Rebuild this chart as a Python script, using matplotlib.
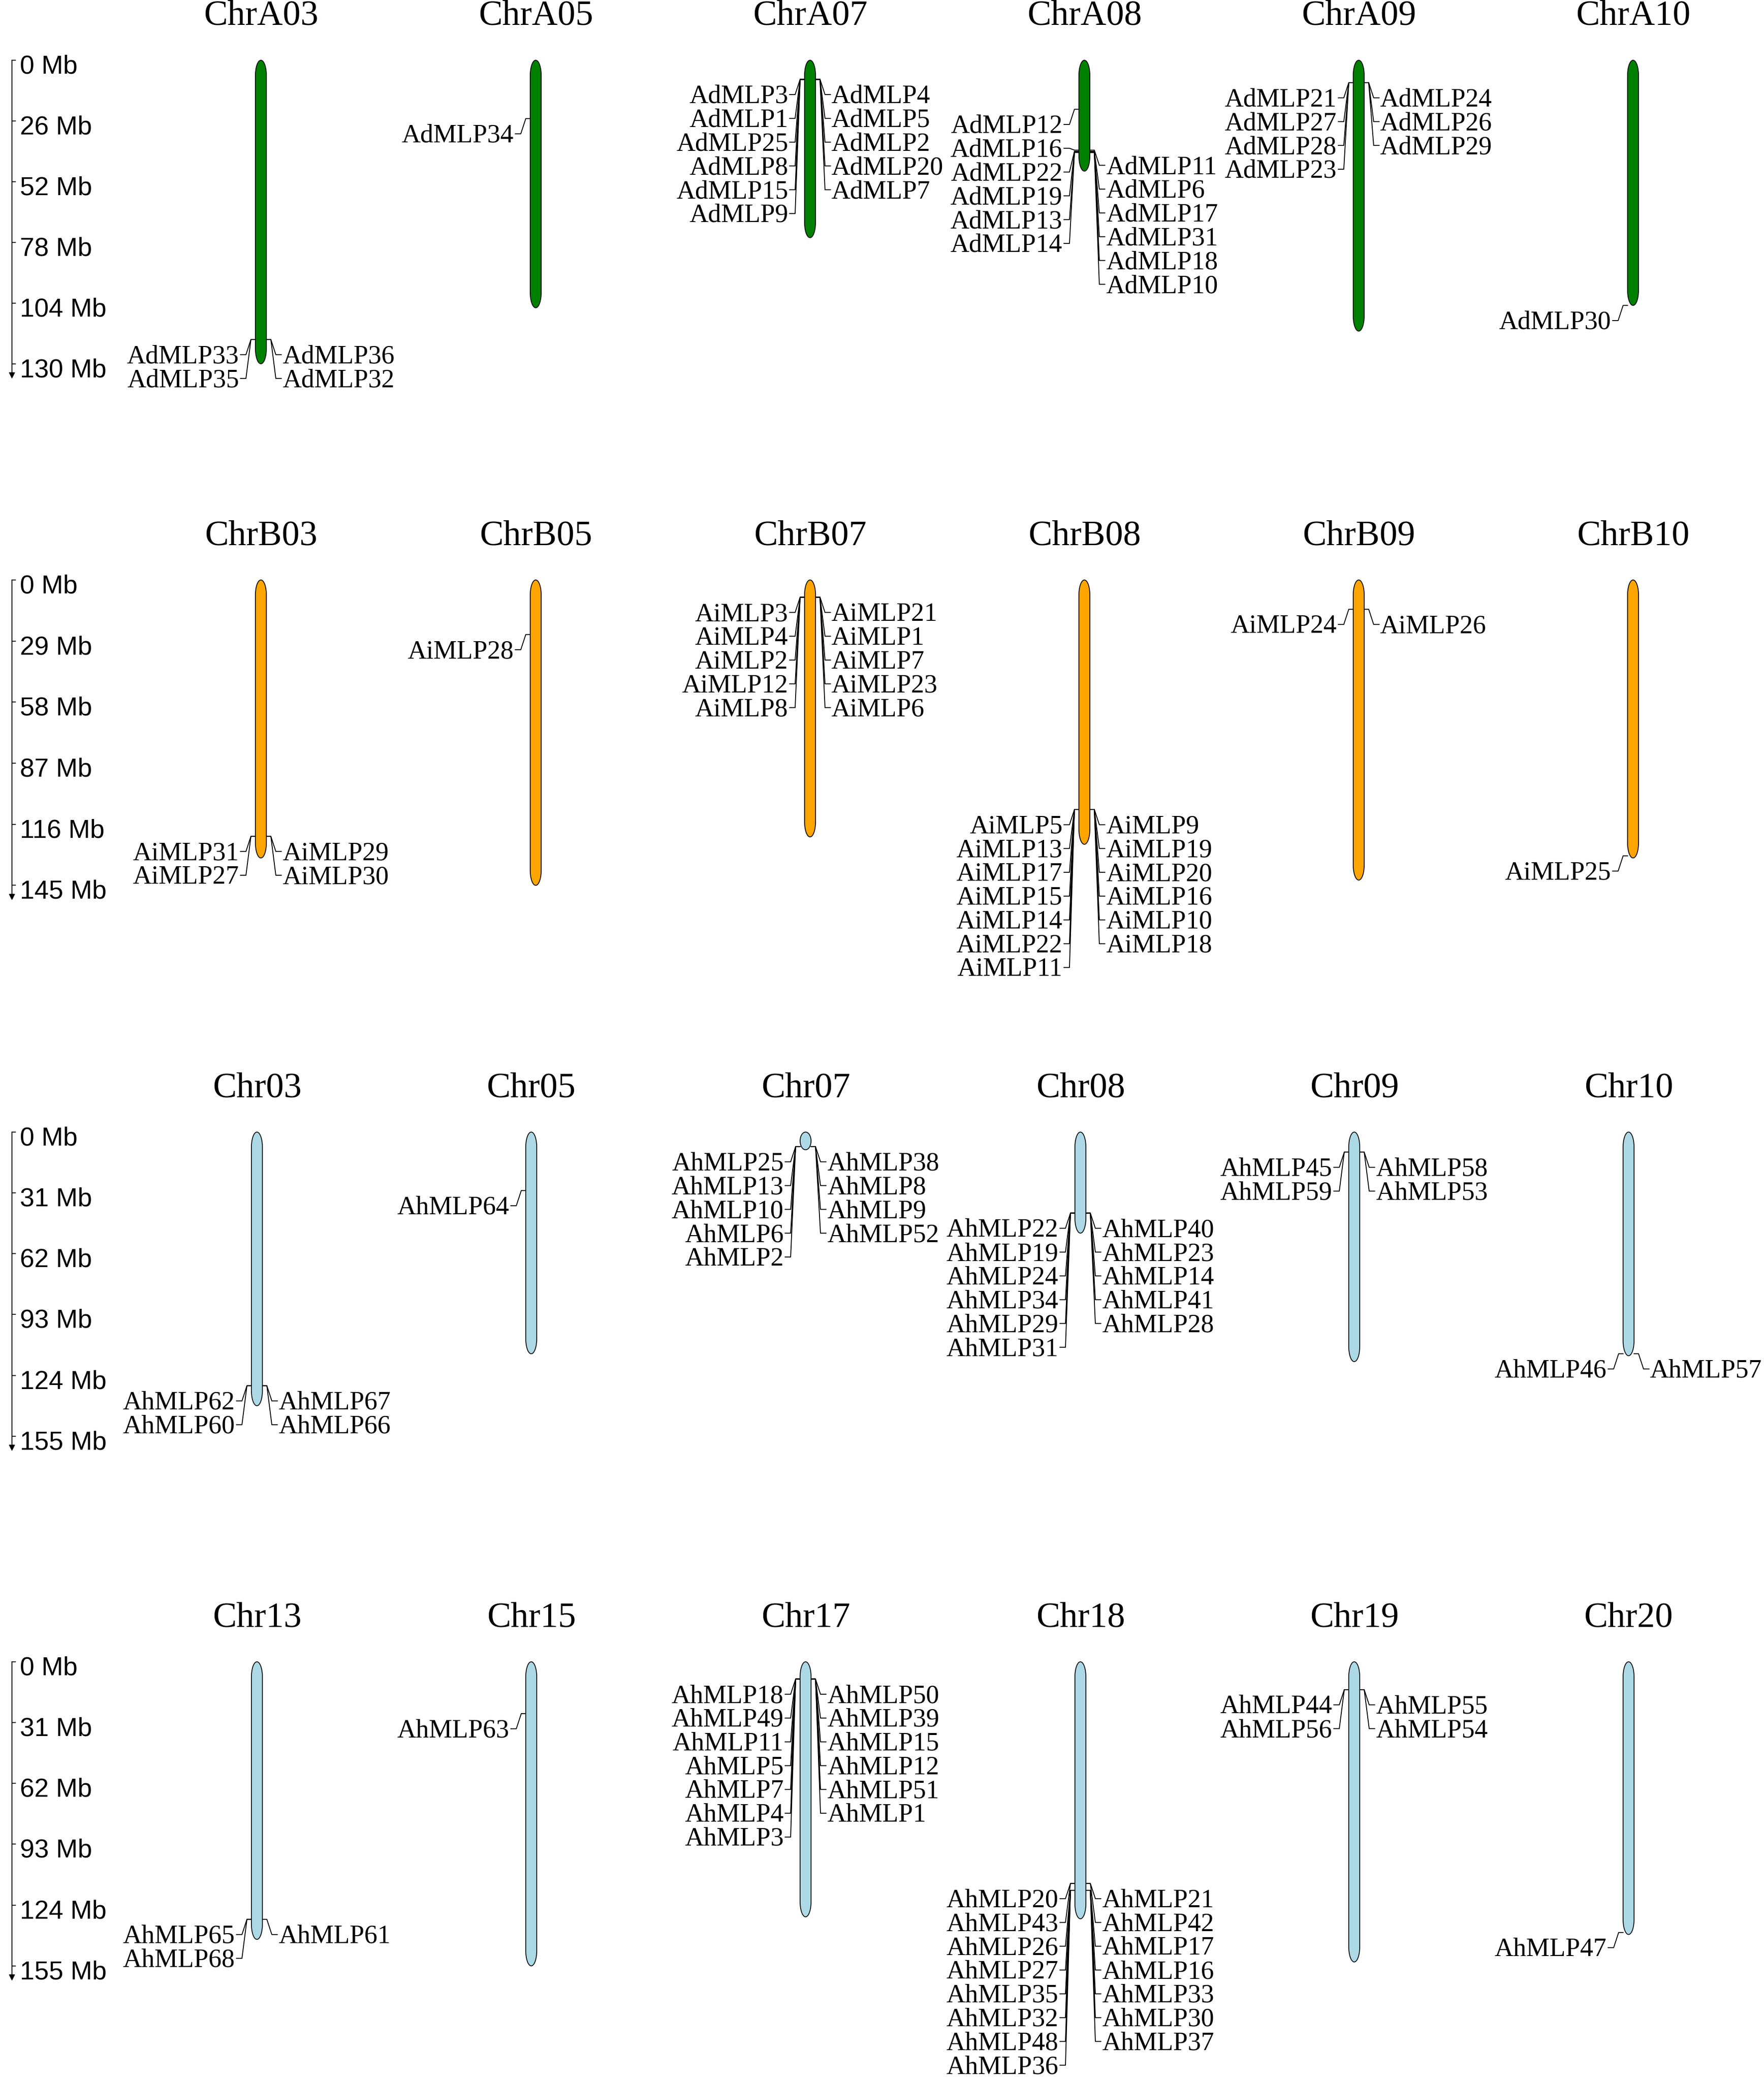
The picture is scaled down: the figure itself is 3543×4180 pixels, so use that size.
import numpy as np
import matplotlib
matplotlib.use('Agg')
import matplotlib.pyplot as plt

W, H = 3543, 4180

# chromosome names, lengths in Mb, ruler ticks
rowA_names = ['ChrA03', 'ChrA05', 'ChrA07', 'ChrA08', 'ChrA09', 'ChrA10']
rowA_lengths = [130, 106, 76, 47.5, 116, 105]
rowA_ticks = [0, 26, 52, 78, 104, 130]
rowB_names = ['ChrB03', 'ChrB05', 'ChrB07', 'ChrB08', 'ChrB09', 'ChrB10']
rowB_lengths = [132, 145, 122, 125.5, 142.5, 132]
rowB_ticks = [0, 29, 58, 87, 116, 145]
rowC_names = ['Chr03', 'Chr05', 'Chr07', 'Chr08', 'Chr09', 'Chr10']
rowC_lengths = [139.5, 113, 9, 51.5, 117, 114]
rowC_ticks = [0, 31, 62, 93, 124, 155]
rowD_names = ['Chr13', 'Chr15', 'Chr17', 'Chr18', 'Chr19', 'Chr20']
rowD_lengths = [141.5, 155, 130, 131, 153, 139]
rowD_ticks = [0, 31, 62, 93, 124, 155]

# genes on each chromosome, (name, position in Mb), left and right of it
rowA_left = [
    [('AdMLP33', 119.6), ('AdMLP35', 119.6)],
    [('AdMLP34', 25)],
    [('AdMLP3', 8.2), ('AdMLP1', 8.2), ('AdMLP25', 8.2), ('AdMLP8', 8.2), ('AdMLP15', 8.2), ('AdMLP9', 8.2)],
    [('AdMLP12', 21), ('AdMLP16', 38.5), ('AdMLP22', 39), ('AdMLP19', 39), ('AdMLP13', 39.5), ('AdMLP14', 39.5)],
    [('AdMLP21', 9.6), ('AdMLP27', 9.6), ('AdMLP28', 9.6), ('AdMLP23', 9.6)],
    [('AdMLP30', 105)],
]
rowA_right = [
    [('AdMLP36', 119.6), ('AdMLP32', 119.6)],
    [],
    [('AdMLP4', 8.2), ('AdMLP5', 8.2), ('AdMLP2', 8.2), ('AdMLP20', 8.2), ('AdMLP7', 8.2)],
    [('AdMLP11', 38.5), ('AdMLP6', 39), ('AdMLP17', 39), ('AdMLP31', 39.5), ('AdMLP18', 39.5), ('AdMLP10', 39.5)],
    [('AdMLP24', 9.6), ('AdMLP26', 9.6), ('AdMLP29', 9.6)],
    [],
]
rowB_left = [
    [('AiMLP31', 121.7), ('AiMLP27', 121.7)],
    [('AiMLP28', 25.9)],
    [('AiMLP3', 8.2), ('AiMLP4', 8.2), ('AiMLP2', 8.2), ('AiMLP12', 8.2), ('AiMLP8', 8.2)],
    [('AiMLP5', 109), ('AiMLP13', 109), ('AiMLP17', 109), ('AiMLP15', 109), ('AiMLP14', 109), ('AiMLP22', 109), ('AiMLP11', 109)],
    [('AiMLP24', 13.9)],
    [('AiMLP25', 131)],
]
rowB_right = [
    [('AiMLP29', 121.7), ('AiMLP30', 121.7)],
    [],
    [('AiMLP21', 8.2), ('AiMLP1', 8.2), ('AiMLP7', 8.2), ('AiMLP23', 8.2), ('AiMLP6', 8.2)],
    [('AiMLP9', 109), ('AiMLP19', 109), ('AiMLP20', 109), ('AiMLP16', 109), ('AiMLP10', 109), ('AiMLP18', 109)],
    [('AiMLP26', 13.9)],
    [],
]
rowC_left = [
    [('AhMLP62', 129.3), ('AhMLP60', 129.3)],
    [('AhMLP64', 29.8)],
    [('AhMLP25', 7.4), ('AhMLP13', 7.4), ('AhMLP10', 7.4), ('AhMLP6', 7.4), ('AhMLP2', 7.4)],
    [('AhMLP22', 41.3), ('AhMLP19', 41.3), ('AhMLP24', 41.3), ('AhMLP34', 41.3), ('AhMLP29', 41.3), ('AhMLP31', 41.3)],
    [('AhMLP45', 10.2), ('AhMLP59', 10.2)],
    [('AhMLP46', 113)],
]
rowC_right = [
    [('AhMLP67', 129.3), ('AhMLP66', 129.3)],
    [],
    [('AhMLP38', 7.4), ('AhMLP8', 7.4), ('AhMLP9', 7.4), ('AhMLP52', 7.4)],
    [('AhMLP40', 41.3), ('AhMLP23', 41.3), ('AhMLP14', 41.3), ('AhMLP41', 41.3), ('AhMLP28', 41.3)],
    [('AhMLP58', 10.2), ('AhMLP53', 10.2)],
    [('AhMLP57', 113)],
]
rowD_left = [
    [('AhMLP65', 131.3), ('AhMLP68', 131.3)],
    [('AhMLP63', 26.4)],
    [('AhMLP18', 8.8), ('AhMLP49', 8.8), ('AhMLP11', 8.8), ('AhMLP5', 8.8), ('AhMLP7', 8.8), ('AhMLP4', 8.8), ('AhMLP3', 8.8)],
    [('AhMLP20', 113), ('AhMLP43', 113), ('AhMLP26', 116.5), ('AhMLP27', 116.5), ('AhMLP35', 116.5), ('AhMLP32', 116.5), ('AhMLP48', 116.5), ('AhMLP36', 116.5)],
    [('AhMLP44', 14.2), ('AhMLP56', 14.2)],
    [('AhMLP47', 138)],
]
rowD_right = [
    [('AhMLP61', 131.3)],
    [],
    [('AhMLP50', 8.8), ('AhMLP39', 8.8), ('AhMLP15', 8.8), ('AhMLP12', 8.8), ('AhMLP51', 8.8), ('AhMLP1', 8.8)],
    [('AhMLP21', 113), ('AhMLP42', 113), ('AhMLP17', 116.5), ('AhMLP16', 116.5), ('AhMLP33', 116.5), ('AhMLP30', 116.5), ('AhMLP37', 116.5)],
    [('AhMLP55', 14.2), ('AhMLP54', 14.2)],
    [],
]

serif = 'Liberation Serif'
sans = 'Liberation Sans'
col_upper = [524, 1076, 1627, 2178, 2729, 3280]
col_lower = [516, 1067, 1618, 2170, 2720, 3271]
chr_w = 22
cap_h = 30
label_step = 47.8


def draw_chrom(ax, cx, length, scale, color):
    cap = min(cap_h / scale, length / 2)
    t = np.linspace(0, np.pi / 2, 30)
    dx = np.sin(t) * chr_w / 2
    top = cap - cap * np.cos(t)
    bot = length - cap + cap * np.cos(t)
    xs = np.concatenate([cx + dx, (cx + dx)[::-1], (cx - dx), (cx - dx)[::-1]])
    ys = np.concatenate([top, bot[::-1], bot, top[::-1]])
    ax.fill(xs, ys, facecolor=color, edgecolor='black', lw=1.2, zorder=3)


def draw_genes(ax, cx, genes, side, scale):
    if not genes:
        return
    edge = cx + side * chr_w / 2
    first = genes[0][1] + 30.5 / scale
    for i, (name, pos) in enumerate(genes):
        y = first + i * label_step / scale
        ax.plot([edge, edge + side * 9, edge + side * 19, edge + side * 30],
                [pos, pos, y, y], color='black', lw=1.3, zorder=2)
        ax.text(edge + side * (33 if side < 0 else 32), y + 4 / scale, name, family=serif, fontsize=37.9,
                ha='right' if side < 0 else 'left', va='center', color='black')


def draw_ruler(ax, ticks, scale):
    x = 24
    ax.annotate('', xy=(x, ticks[-1] + 30 / scale), xytext=(x, 0),
                arrowprops=dict(arrowstyle='-|>', color='black', lw=1.3, mutation_scale=18,
                                shrinkA=0, shrinkB=0))
    for t in ticks:
        ax.plot([x, x + 7], [t, t], color='black', lw=1.2)
        ax.text(x + 16, t + 13 / scale, '%d Mb' % t, family=sans, fontsize=37.5, ha='left', va='center')


def draw_row(fig, top, scale, title_y, cols, names, lengths, ticks, left, right, color):
    # full figure axes, x in pixels and y in Mb
    ax = fig.add_axes([0, 0, 1, 1])
    ax.patch.set_alpha(0)
    ax.set_xlim(0, W)
    ax.set_ylim((H - top) / scale, -top / scale)
    ax.axis('off')
    draw_ruler(ax, ticks, scale)
    for i, name in enumerate(names):
        ax.text(cols[i], (title_y - top) / scale, name, family=serif, fontsize=51.5,
                ha='center', va='center', color='black')
        draw_chrom(ax, cols[i], lengths[i], scale, color)
        draw_genes(ax, cols[i], left[i], -1, scale)
        draw_genes(ax, cols[i], right[i], 1, scale)


fig = plt.figure(figsize=(W / 100, H / 100), dpi=100, facecolor='white')
draw_row(fig, 121, 4.69, 32, col_upper, rowA_names, rowA_lengths, rowA_ticks, rowA_left, rowA_right, '#008000')
draw_row(fig, 1165, 4.23, 1077, col_upper, rowB_names, rowB_lengths, rowB_ticks, rowB_left, rowB_right, '#FFA500')
draw_row(fig, 2274, 3.94, 2186, col_lower, rowC_names, rowC_lengths, rowC_ticks, rowC_left, rowC_right, '#ADD8E6')
draw_row(fig, 3338, 3.94, 3250, col_lower, rowD_names, rowD_lengths, rowD_ticks, rowD_left, rowD_right, '#ADD8E6')
fig.savefig('out.png', dpi=100)
